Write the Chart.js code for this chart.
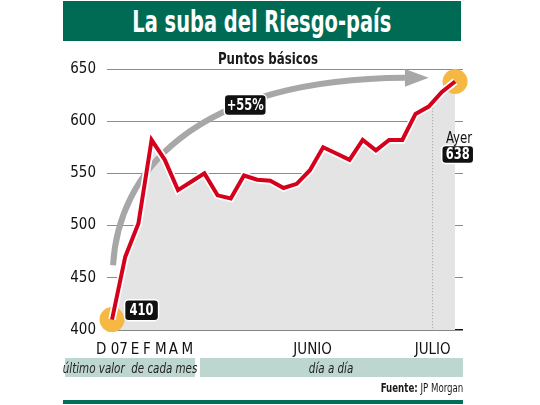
<!DOCTYPE html>
<html lang="es">
<head>
<meta charset="utf-8">
<title>La suba del Riesgo-país</title>
<script src="https://cdn.jsdelivr.net/npm/chart.js@4.4.1/dist/chart.umd.min.js"></script>
<style>
  html, body { margin: 0; padding: 0; background: #fff; }
  #wrap { position: relative; width: 540px; height: 405px; overflow: hidden;
          font-family: 'Liberation Sans Narrow', 'DejaVu Sans Condensed', 'Roboto', sans-serif; color: #1a1a1a; }
  #grafico { position: absolute; left: 0; top: 0; }
  .caja { position: absolute; display: flex; align-items: center; justify-content: center; white-space: nowrap; }
  .caja span { display: inline-block; }
  .titulo { left: 63px; top: 1px; width: 398px; height: 40px; background: #006b55;
            color: #fff; font-weight: bold; font-size: 30px; }
  .titulo span { transform: scaleX(0.72); }
  .sub { left: 163px; width: 210px; top: 48px; height: 20px; font-weight: bold; font-size: 16px; }
  .sub span { transform: scaleX(0.82); }
  .banda { top: 358px; height: 19px; background: #bdd6cf; font-style: italic; font-size: 14px; color: #222; }
  .banda span { transform: scaleX(0.82); }
  .fuente { right: 77px; top: 380px; height: 16px; font-size: 12px; justify-content: flex-end; }
  .fuente span { transform: scaleX(0.8); transform-origin: right center; }
  .pie { position: absolute; left: 63px; top: 400px; width: 400px; height: 4px; background: #00705a; }
</style>
</head>
<body>
<div id="wrap">
  <canvas id="grafico" width="540" height="405"></canvas>
  <div class="caja titulo"><span>La suba del Riesgo-país</span></div>
  <div class="caja sub"><span>Puntos básicos</span></div>
  <div class="caja banda" style="left:65px;width:130px;"><span>último valor&nbsp; de cada mes</span></div>
  <div class="caja banda" style="left:200px;width:263px;"><span>día a día</span></div>
  <div class="caja fuente"><span><b>Fuente:</b> JP Morgan</span></div>
  <div class="pie"></div>
</div>
<script>
  // valores: fin de mes (D 07 .. M) y luego dia a dia (junio - julio)
  const valores = [410, 470, 502, 582, 563, 534, 542, 550, 529, 526, 548, 544, 543, 536,
                   540, 553, 575, 569, 563, 582, 572, 582, 582, 607, 614, 628, 638];
  const ticksY = [400, 450, 500, 550, 600, 650];
  const etiquetasX = ['D 07', 'E', 'F', 'M', 'A', 'M', 'JUNIO', 'JULIO'];
  const lugarEtiquetasX = [0, 1.75, 2.65, 3.7, 4.65, 5.7, 15.2, 24.3];
  const textoSuba = '+55%';

  const fuente = "'Liberation Sans Narrow', 'DejaVu Sans Condensed', 'Roboto', sans-serif";
  const puntos = valores.map((v, i) => ({ x: i, y: v }));
  const extremos = [puntos[0], puntos[puntos.length - 1]];

  function cajaNegra(ctx, texto, cx, cy, w, h) {
    ctx.save();
    ctx.beginPath();
    ctx.roundRect(cx - w / 2, cy - h / 2, w, h, 4);
    ctx.fillStyle = '#111';
    ctx.fill();
    ctx.lineWidth = 1.5;
    ctx.strokeStyle = '#fff';
    ctx.stroke();
    ctx.fillStyle = '#fff';
    ctx.font = 'bold 15px ' + fuente;
    ctx.textAlign = 'center';
    ctx.textBaseline = 'middle';
    ctx.translate(cx, cy + 1);
    ctx.scale(0.85, 1);
    ctx.fillText(texto, 0, 0);
    ctx.restore();
  }

  const adornos = {
    id: 'adornos',
    afterDatasetDraw(chart, args) {
      if (args.index !== 3) return;
      const ctx = chart.ctx;
      const sx = chart.scales.x, sy = chart.scales.y;
      const X = v => sx.getPixelForValue(v), Y = v => sy.getPixelForValue(v);

      // linea punteada de julio
      const xj = lugarEtiquetasX[7];
      const i0 = Math.floor(xj);
      const vj = valores[i0] + (valores[i0 + 1] - valores[i0]) * (xj - i0);
      ctx.save();
      ctx.strokeStyle = '#9a9a9a';
      ctx.lineWidth = 1;
      ctx.setLineDash([1, 2]);
      ctx.beginPath();
      ctx.moveTo(X(xj), Y(vj));
      ctx.lineTo(X(xj), Y(400));
      ctx.stroke();
      ctx.restore();

      // flecha curva
      ctx.save();
      ctx.strokeStyle = '#a7a7a7';
      ctx.fillStyle = '#a7a7a7';
      ctx.lineWidth = 6;
      ctx.beginPath();
      ctx.moveTo(X(0.08), Y(462));
      ctx.bezierCurveTo(X(0.45), Y(548), X(5.9), Y(640), X(22.2), Y(641.5));
      ctx.stroke();
      ctx.beginPath();
      ctx.moveTo(X(24), Y(641.5));
      ctx.lineTo(X(22.2), Y(650));
      ctx.lineTo(X(22.2), Y(633));
      ctx.closePath();
      ctx.fill();
      ctx.restore();
    },
    afterDatasetsDraw(chart) {
      const ctx = chart.ctx;
      const sx = chart.scales.x, sy = chart.scales.y;
      const X = v => sx.getPixelForValue(v), Y = v => sy.getPixelForValue(v);
      const n = valores.length - 1;

      cajaNegra(ctx, textoSuba, X(10.1), Y(615.5), 42, 21);
      cajaNegra(ctx, String(valores[0]), X(2.24), Y(419), 34, 21);
      cajaNegra(ctx, String(valores[n]), X(n + 0.2), Y(568), 32, 18);

      ctx.save();
      ctx.fillStyle = '#111';
      ctx.font = '16px ' + fuente;
      ctx.textAlign = 'center';
      ctx.textBaseline = 'middle';
      ctx.translate(X(n + 0.3), Y(583));
      ctx.scale(0.82, 1);
      ctx.fillText('Ayer', 0, 0);
      ctx.restore();
    }
  };

  new Chart(document.getElementById('grafico'), {
    type: 'line',
    data: {
      datasets: [
        { data: puntos, borderColor: '#d5001c', borderWidth: 4, pointRadius: 0, fill: false, order: 0, clip: false },
        { data: puntos, borderColor: '#ffffff', borderWidth: 7.5, pointRadius: 0, fill: false, order: 1, clip: false },
        { data: extremos, showLine: false, pointRadius: 12.5, pointBorderWidth: 0,
          pointBackgroundColor: '#f5b843', order: 2, clip: false },
        { data: puntos, borderWidth: 0, pointRadius: 0, backgroundColor: '#e4e4e4', fill: 'start', order: 3 }
      ]
    },
    options: {
      responsive: false,
      animation: false,
      layout: { padding: { left: 0, top: 69, right: 77, bottom: 0 } },
      plugins: { legend: { display: false }, tooltip: { enabled: false } },
      scales: {
        x: {
          type: 'linear',
          min: -0.38,
          max: 26.6,
          grid: { display: false },
          border: { display: false },
          afterBuildTicks: s => { s.ticks = lugarEtiquetasX.map(v => ({ value: v })); },
          afterFit: s => { s.height = 75; },
          ticks: {
            autoSkip: false,
            maxRotation: 0,
            padding: 3,
            color: '#111',
            font: { family: fuente, size: 15 },
            callback: (v, i) => etiquetasX[i]
          }
        },
        y: {
          min: 400,
          max: 650,
          afterBuildTicks: s => { s.ticks = ticksY.map(v => ({ value: v })); },
          afterFit: s => { s.width = 107; },
          border: { display: false },
          grid: {
            drawTicks: false,
            color: c => c.tick && c.tick.value === 400 ? '#111' : '#8c8c8c',
            lineWidth: c => c.tick && c.tick.value === 400 ? 1.5 : 1
          },
          ticks: { padding: 11, color: '#111', font: { family: fuente, size: 15 } }
        }
      }
    },
    plugins: [adornos]
  });
</script>
</body>
</html>
